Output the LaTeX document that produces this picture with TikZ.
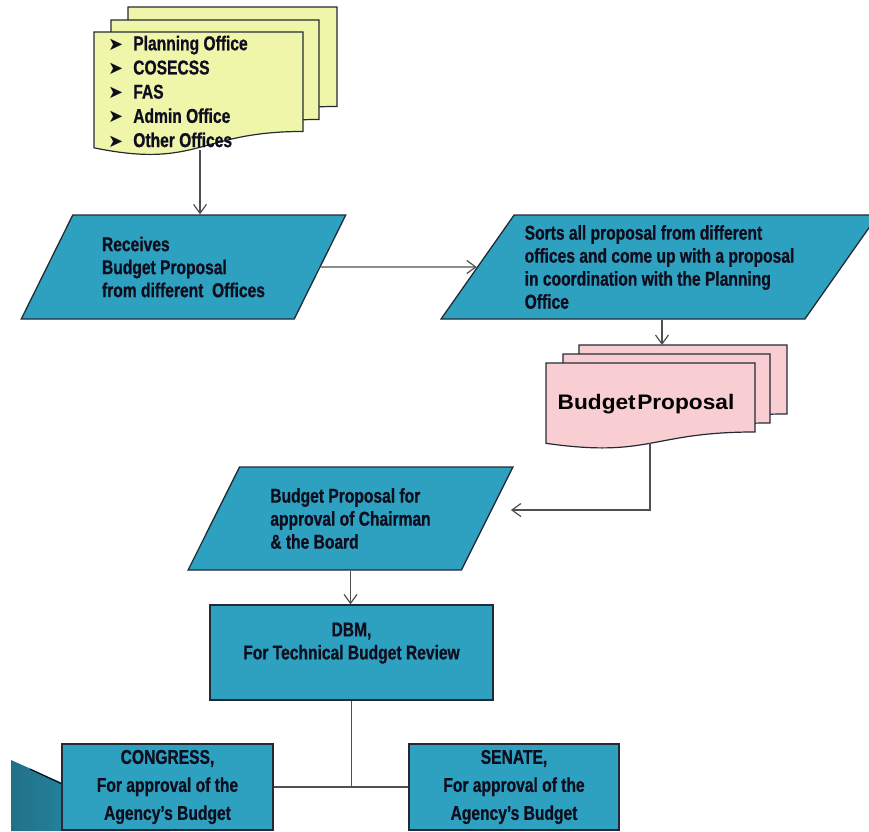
\documentclass[tikz,border=0pt]{standalone}
\usepackage{fontspec}
\usetikzlibrary{shapes.geometric,arrows.meta}
\newfontfamily\condfont[FakeStretch=0.78,BoldFeatures={FakeBold=0.8}]{Liberation Sans}
\newfontfamily\widefont[FakeStretch=1.08]{Liberation Sans}
\newfontfamily\symfont{DejaVu Sans}
\definecolor{boxblue}{RGB}{46,161,193}
\definecolor{edgecol}{RGB}{35,42,52}
\definecolor{inkcol}{RGB}{14,14,30}
\definecolor{linecol}{RGB}{80,80,80}
\definecolor{sheetyellow}{RGB}{239,246,170}
\definecolor{sheetpink}{RGB}{248,206,211}
\newcommand{\bul}{{\symfont\fontsize{18}{15}\selectfont ➤}\hspace{10pt}}
\newcommand{\docsheet}[5]{\draw[edgecol,line width=1.2pt,fill=#5] (#1,#2) -- ({#1+#3},#2) -- ({#1+#3},{#2+0.802*#4}) .. controls ({#1+0.5*#3},{#2+0.802*#4}) and ({#1+0.5*#3},{#2+1.107*#4}) .. (#1,{#2+0.934*#4}) -- cycle;}

\begin{document}
\begin{tikzpicture}[x=1pt,y=-1pt,
	txt/.style={font=\condfont\bfseries\fontsize{20}{23}\selectfont,text=inkcol},
	para/.style={txt,trapezium,trapezium stretches=true,draw=edgecol,line width=1.3pt,fill=boxblue,align=left,inner sep=0pt},
	box/.style={txt,rectangle,draw=edgecol,line width=1.3pt,fill=boxblue,align=center},
	conn/.style={linecol,line width=1.2pt,-{Straight Barb[length=9pt,width=13pt]}},
	link/.style={linecol,line width=1.2pt}]
	\useasboundingbox (0,0) rectangle (869,831);
	\clip (0,0) rectangle (869,831);
	% stacked sheets
	\docsheet{128}{7}{209}{124}{sheetyellow}
	\docsheet{111}{20}{208}{124}{sheetyellow}
	\docsheet{94}{32}{209}{124}{sheetyellow}
	\node[txt,font=\condfont\bfseries\fontsize{20}{24.2}\selectfont,align=left,anchor=west,inner sep=0pt] (offices) at (108,91.5)
	{\bul Planning Office\\\bul COSECSS\\\bul FAS\\\bul Admin Office\\\bul Other Offices};
	\docsheet{579}{345}{208}{86}{sheetpink}
	\docsheet{563}{354}{207}{86}{sheetpink}
	\docsheet{546}{363}{209}{86}{sheetpink}
	\node[font=\widefont\bfseries\fontsize{21}{21}\selectfont,text=black] (bp) at (646,404) {Budget\hspace{1.5pt}Proposal};
	% flow
	\node[para,trapezium left angle=58,trapezium right angle=122,minimum width=325pt,minimum height=104pt] (recv) at (183.5,267)
	{Receives\\Budget Proposal\\from different~ Offices};
	\node[para,trapezium left angle=51,trapezium right angle=129,minimum width=439pt,minimum height=104pt] (sort) at (659.5,267)
	{Sorts all proposal from different\\offices and come up with a proposal\\in coordination with the Planning\\Office};
	\node[para,trapezium left angle=58.5,trapezium right angle=121.5,minimum width=325pt,minimum height=103pt] (board) at (350.5,518.5)
	{Budget Proposal for\\approval of Chairman\\\& the Board};
	\node[box,minimum width=283pt,minimum height=95pt] (dbm) at (351.5,652.5) {DBM,\\For Technical Budget Review\\\mbox{}};
	\shade[left color=boxblue!70!black,right color=boxblue] (11,760) -- (170,831) -- (11,831) -- cycle;
	\draw[black,line width=1pt] (30,769) -- (62,784);
	\node[box,font=\condfont\bfseries\fontsize{20}{28}\selectfont,minimum width=211pt,minimum height=86pt] (congress) at (167.5,787)
	{CONGRESS,\\For approval of the\\Agency’s Budget};
	\node[box,font=\condfont\bfseries\fontsize{20}{28}\selectfont,minimum width=210pt,minimum height=86pt] (senate) at (514,787)
	{SENATE,\\For approval of the\\Agency’s Budget};
	\coordinate (offbot) at (200,150);
	\coordinate (bptop) at (662,345);
	\coordinate (bpbot) at (650,443);
	\coordinate (bend) at (650,510);
	\draw[conn] (offbot) -- (offbot |- recv.north);
	\draw[conn] (recv.east) -- (sort.west);
	\draw[conn] (bptop |- sort.south) -- (bptop);
	\draw[conn] (bpbot) -- (bend) -- ([xshift=23pt]board.east |- bend);
	\draw[conn] (board.south) -- (board.south |- dbm.north);
	\draw[link] (dbm.south) -- (dbm.south |- congress.east);
	\draw[link] (congress.east) -- (senate.west);
\end{tikzpicture}
\end{document}
